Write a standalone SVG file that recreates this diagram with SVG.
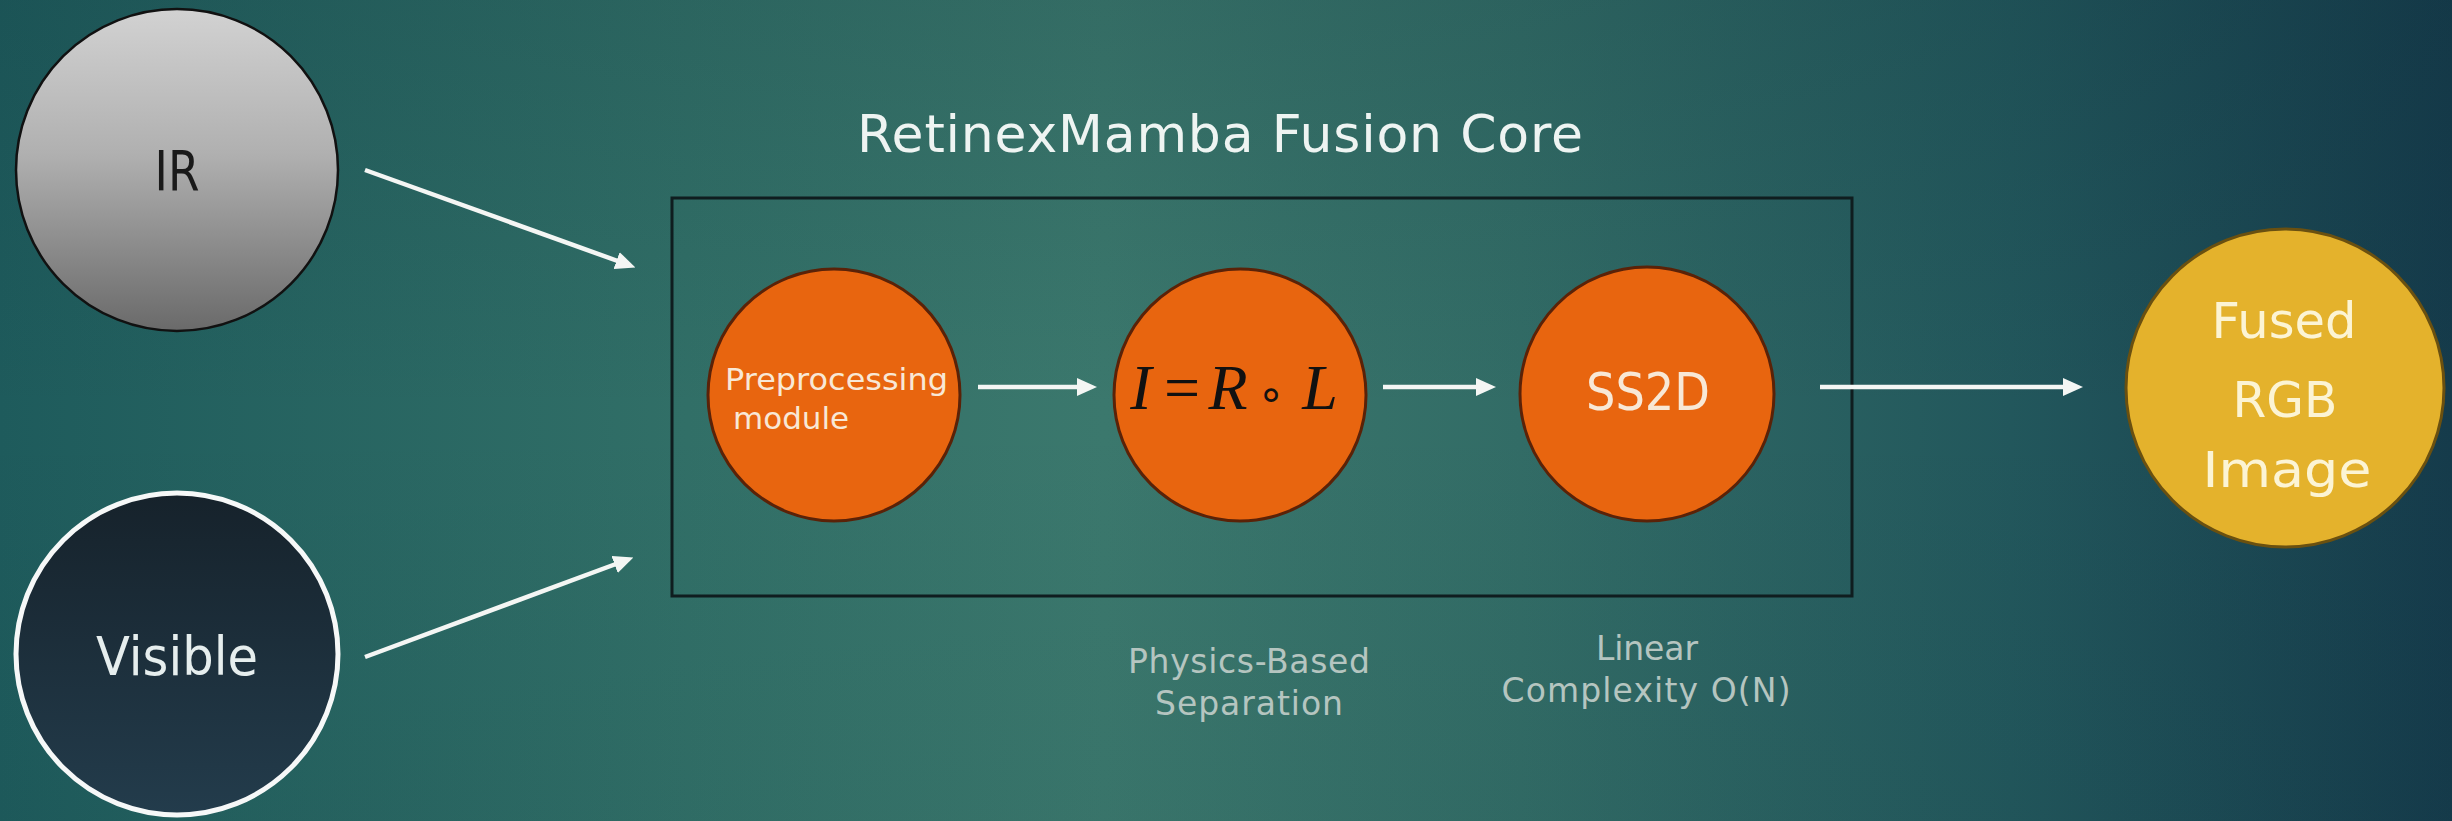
<svg xmlns="http://www.w3.org/2000/svg" width="2452" height="821" viewBox="0 0 2452 821">
  <defs>
    <linearGradient id="bg" x1="0" y1="0" x2="1" y2="0">
      <stop offset="0" stop-color="#1e5b5c"/>
      <stop offset="0.28" stop-color="#316f67"/>
      <stop offset="0.45" stop-color="#3b786d"/>
      <stop offset="0.62" stop-color="#326c66"/>
      <stop offset="0.82" stop-color="#22575c"/>
      <stop offset="1" stop-color="#153b4b"/>
    </linearGradient>
    <linearGradient id="shade" x1="0" y1="0" x2="0" y2="1">
      <stop offset="0" stop-color="#0c2a33" stop-opacity="0.15"/>
      <stop offset="0.5" stop-color="#0c2a33" stop-opacity="0"/>
      <stop offset="1" stop-color="#0c2a33" stop-opacity="0.05"/>
    </linearGradient>
    <linearGradient id="irFill" x1="0" y1="0" x2="0" y2="1">
      <stop offset="0" stop-color="#d2d2d2"/>
      <stop offset="0.45" stop-color="#b0b0b0"/>
      <stop offset="1" stop-color="#6a6a6a"/>
    </linearGradient>
    <linearGradient id="visFill" x1="0" y1="0" x2="0" y2="1">
      <stop offset="0" stop-color="#16222b"/>
      <stop offset="1" stop-color="#233c4c"/>
    </linearGradient>
    <marker id="head" markerUnits="userSpaceOnUse" viewBox="0 0 20 18" markerWidth="20" markerHeight="18" refX="10" refY="9" orient="auto">
      <path d="M0,0 L20,9 L0,18 z" fill="#f4f6f4"/>
    </marker>
    <style>
      .sans { font-family: "DejaVu Sans", "Noto Sans", sans-serif; }
      .orange { fill: #e8650f; stroke: #5a2208; stroke-width: 3; }
      .light { fill: #f8e8d6; }
      .caption { fill: #b5c5c0; font-size: 33px; text-anchor: middle; }
      .conn line { stroke: #f4f6f4; stroke-width: 4.5; marker-end: url(#head); }
      .math { font-family: "Liberation Serif", "DejaVu Serif", serif; font-size: 64px; fill: #111; text-anchor: middle; }
    </style>
  </defs>

  <!-- backdrop -->
  <rect x="0" y="0" width="2452" height="821" fill="url(#bg)"/>
  <rect x="0" y="0" width="2452" height="821" fill="url(#shade)"/>

  <!-- fusion core frame and heading -->
  <g id="fusion-core">
    <rect x="672" y="198" width="1180" height="398" fill="none" stroke="#0f1d1f" stroke-width="3"/>
    <text class="sans" x="1220" y="152" font-size="52" fill="#eef4f2" text-anchor="middle" textLength="726">RetinexMamba Fusion Core</text>
  </g>

  <!-- input sources -->
  <g id="ir">
    <circle cx="177" cy="170" r="161" fill="url(#irFill)" stroke="#111" stroke-width="2.5"/>
    <text class="sans" x="177" y="190" font-size="55" fill="#1a1a1a" text-anchor="middle" textLength="45" lengthAdjust="spacingAndGlyphs">IR</text>
  </g>
  <g id="visible">
    <circle cx="177" cy="654" r="161" fill="url(#visFill)" stroke="#f6f8f8" stroke-width="5"/>
    <text class="sans" x="177" y="675" font-size="53" fill="#e6eeee" text-anchor="middle" textLength="162" lengthAdjust="spacingAndGlyphs">Visible</text>
  </g>

  <!-- processing stages -->
  <g id="preprocessing">
    <circle class="orange" cx="834" cy="395" r="126"/>
    <text class="sans light" x="725" y="390" font-size="31" textLength="223" lengthAdjust="spacingAndGlyphs">Preprocessing</text>
    <text class="sans light" x="733" y="429" font-size="31">module</text>
  </g>
  <g id="retinex">
    <circle class="orange" cx="1240" cy="395" r="126"/>
    <text class="math" y="409">
      <tspan x="1149" font-style="italic">I</tspan>
      <tspan x="1190">=</tspan>
      <tspan x="1236" font-style="italic">R</tspan>
      <tspan x="1279" font-family="DejaVu Sans, sans-serif" font-size="44">∘</tspan>
      <tspan x="1320" font-style="italic">L</tspan>
    </text>
  </g>
  <g id="ss2d">
    <circle class="orange" cx="1647" cy="394" r="127"/>
    <text class="sans light" x="1648" y="410" font-size="52" text-anchor="middle" textLength="124" lengthAdjust="spacingAndGlyphs">SS2D</text>
  </g>

  <!-- output -->
  <g id="fused">
    <circle cx="2285" cy="388" r="159" fill="#e4b22c" stroke="#6a5010" stroke-width="3"/>
    <g class="sans" fill="#fcf4d4" font-size="50" text-anchor="middle">
      <text x="2284" y="338" textLength="145" lengthAdjust="spacingAndGlyphs">Fused</text>
      <text x="2285" y="417" textLength="105" lengthAdjust="spacingAndGlyphs">RGB</text>
      <text x="2287" y="487" textLength="169" lengthAdjust="spacingAndGlyphs">Image</text>
    </g>
  </g>

  <!-- stage notes -->
  <g id="note-separation" class="sans caption">
    <text x="1249" y="673" textLength="242">Physics-Based</text>
    <text x="1249" y="715" textLength="188">Separation</text>
  </g>
  <g id="note-complexity" class="sans caption">
    <text x="1647" y="660" textLength="102">Linear</text>
    <text x="1646" y="702" textLength="289">Complexity O(N)</text>
  </g>

  <!-- connectors -->
  <g id="connectors" class="conn">
    <line x1="365" y1="170" x2="626" y2="264"/>
    <line x1="365" y1="657" x2="624" y2="561"/>
    <line x1="978" y1="387" x2="1087" y2="387"/>
    <line x1="1383" y1="387" x2="1486" y2="387"/>
    <line x1="1820" y1="387" x2="2073" y2="387"/>
  </g>
</svg>
